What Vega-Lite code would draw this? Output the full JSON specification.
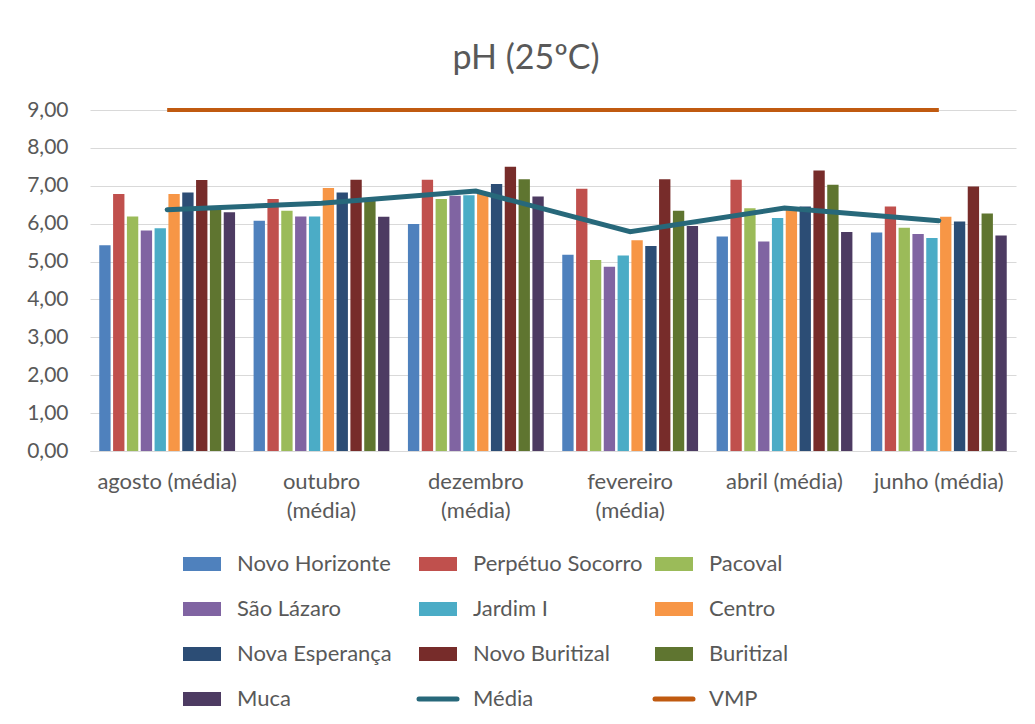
{
  "$schema": "https://vega.github.io/schema/vega-lite/v6.json",
  "autosize": {"type": "none"},
  "width": 926,
  "height": 341,
  "padding": {"left": 90, "top": 110, "right": 19, "bottom": 273},
  "background": "white",
  "title": {"text": "pH (25ºC)", "fontSize": 34, "font": "Lato", "fontWeight": "normal", "color": "#595959", "anchor": "middle", "offset": 23, "dx": -27},
  "config": {
    "font": "Lato",
    "view": {"stroke": null},
    "axis": {"labelFont": "Lato", "labelColor": "#595959", "labelFontSize": 22, "gridColor": "#D9D9D9", "domainColor": "#D9D9D9", "ticks": false, "title": null}
  },
  "data": {"values": [
    {"mes": "agosto (média)", "serie": "Novo Horizonte", "valor": 5.43},
    {"mes": "agosto (média)", "serie": "Perpétuo Socorro", "valor": 6.78},
    {"mes": "agosto (média)", "serie": "Pacoval", "valor": 6.19},
    {"mes": "agosto (média)", "serie": "São Lázaro", "valor": 5.82},
    {"mes": "agosto (média)", "serie": "Jardim I", "valor": 5.88},
    {"mes": "agosto (média)", "serie": "Centro", "valor": 6.78},
    {"mes": "agosto (média)", "serie": "Nova Esperança", "valor": 6.82},
    {"mes": "agosto (média)", "serie": "Novo Buritizal", "valor": 7.15},
    {"mes": "agosto (média)", "serie": "Buritizal", "valor": 6.38},
    {"mes": "agosto (média)", "serie": "Muca", "valor": 6.30},
    {"mes": "outubro (média)", "serie": "Novo Horizonte", "valor": 6.08},
    {"mes": "outubro (média)", "serie": "Perpétuo Socorro", "valor": 6.65},
    {"mes": "outubro (média)", "serie": "Pacoval", "valor": 6.34},
    {"mes": "outubro (média)", "serie": "São Lázaro", "valor": 6.19},
    {"mes": "outubro (média)", "serie": "Jardim I", "valor": 6.19},
    {"mes": "outubro (média)", "serie": "Centro", "valor": 6.94},
    {"mes": "outubro (média)", "serie": "Nova Esperança", "valor": 6.82},
    {"mes": "outubro (média)", "serie": "Novo Buritizal", "valor": 7.16},
    {"mes": "outubro (média)", "serie": "Buritizal", "valor": 6.65},
    {"mes": "outubro (média)", "serie": "Muca", "valor": 6.18},
    {"mes": "dezembro (média)", "serie": "Novo Horizonte", "valor": 5.99},
    {"mes": "dezembro (média)", "serie": "Perpétuo Socorro", "valor": 7.16},
    {"mes": "dezembro (média)", "serie": "Pacoval", "valor": 6.65},
    {"mes": "dezembro (média)", "serie": "São Lázaro", "valor": 6.74},
    {"mes": "dezembro (média)", "serie": "Jardim I", "valor": 6.75},
    {"mes": "dezembro (média)", "serie": "Centro", "valor": 6.78},
    {"mes": "dezembro (média)", "serie": "Nova Esperança", "valor": 7.05},
    {"mes": "dezembro (média)", "serie": "Novo Buritizal", "valor": 7.50},
    {"mes": "dezembro (média)", "serie": "Buritizal", "valor": 7.17},
    {"mes": "dezembro (média)", "serie": "Muca", "valor": 6.72},
    {"mes": "fevereiro (média)", "serie": "Novo Horizonte", "valor": 5.18},
    {"mes": "fevereiro (média)", "serie": "Perpétuo Socorro", "valor": 6.92},
    {"mes": "fevereiro (média)", "serie": "Pacoval", "valor": 5.04},
    {"mes": "fevereiro (média)", "serie": "São Lázaro", "valor": 4.86},
    {"mes": "fevereiro (média)", "serie": "Jardim I", "valor": 5.16},
    {"mes": "fevereiro (média)", "serie": "Centro", "valor": 5.56},
    {"mes": "fevereiro (média)", "serie": "Nova Esperança", "valor": 5.41},
    {"mes": "fevereiro (média)", "serie": "Novo Buritizal", "valor": 7.17},
    {"mes": "fevereiro (média)", "serie": "Buritizal", "valor": 6.34},
    {"mes": "fevereiro (média)", "serie": "Muca", "valor": 5.94},
    {"mes": "abril (média)", "serie": "Novo Horizonte", "valor": 5.66},
    {"mes": "abril (média)", "serie": "Perpétuo Socorro", "valor": 7.16},
    {"mes": "abril (média)", "serie": "Pacoval", "valor": 6.41},
    {"mes": "abril (média)", "serie": "São Lázaro", "valor": 5.53},
    {"mes": "abril (média)", "serie": "Jardim I", "valor": 6.15},
    {"mes": "abril (média)", "serie": "Centro", "valor": 6.42},
    {"mes": "abril (média)", "serie": "Nova Esperança", "valor": 6.45},
    {"mes": "abril (média)", "serie": "Novo Buritizal", "valor": 7.40},
    {"mes": "abril (média)", "serie": "Buritizal", "valor": 7.03},
    {"mes": "abril (média)", "serie": "Muca", "valor": 5.78},
    {"mes": "junho (média)", "serie": "Novo Horizonte", "valor": 5.77},
    {"mes": "junho (média)", "serie": "Perpétuo Socorro", "valor": 6.45},
    {"mes": "junho (média)", "serie": "Pacoval", "valor": 5.89},
    {"mes": "junho (média)", "serie": "São Lázaro", "valor": 5.73},
    {"mes": "junho (média)", "serie": "Jardim I", "valor": 5.62},
    {"mes": "junho (média)", "serie": "Centro", "valor": 6.18},
    {"mes": "junho (média)", "serie": "Nova Esperança", "valor": 6.06},
    {"mes": "junho (média)", "serie": "Novo Buritizal", "valor": 6.98},
    {"mes": "junho (média)", "serie": "Buritizal", "valor": 6.27},
    {"mes": "junho (média)", "serie": "Muca", "valor": 5.69},
    {"mes": "agosto (média)", "serie": "Média", "valor": 6.37},
    {"mes": "outubro (média)", "serie": "Média", "valor": 6.54},
    {"mes": "dezembro (média)", "serie": "Média", "valor": 6.86},
    {"mes": "fevereiro (média)", "serie": "Média", "valor": 5.79},
    {"mes": "abril (média)", "serie": "Média", "valor": 6.41},
    {"mes": "junho (média)", "serie": "Média", "valor": 6.08},
    {"mes": "agosto (média)", "serie": "VMP", "valor": 9},
    {"mes": "outubro (média)", "serie": "VMP", "valor": 9},
    {"mes": "dezembro (média)", "serie": "VMP", "valor": 9},
    {"mes": "fevereiro (média)", "serie": "VMP", "valor": 9},
    {"mes": "abril (média)", "serie": "VMP", "valor": 9},
    {"mes": "junho (média)", "serie": "VMP", "valor": 9}
  ]},
  "encoding": {
    "x": {"field": "mes", "type": "nominal", "sort": null,
      "scale": {"paddingInner": 0.12, "paddingOuter": 0.06},
      "axis": {"labelAngle": 0, "labelPadding": 20, "labelLineHeight": 29, "labelExpr": "length(datum.label) > 14 ? split(datum.label, ' ') : datum.label", "labelBaseline": "top"}},
    "y": {"field": "valor", "type": "quantitative",
      "scale": {"domain": [0, 9], "nice": false},
      "axis": {"values": [0,1,2,3,4,5,6,7,8,9], "labelOverlap": false, "domain": false, "labelPadding": 22, "labelFontSize": 21, "labelExpr": "replace(format(datum.value, '.2f'), '.', ',')"}},
    "color": {"field": "serie", "type": "nominal",
      "scale": {
        "domain": ["Novo Horizonte", "Perpétuo Socorro", "Pacoval", "São Lázaro", "Jardim I", "Centro", "Nova Esperança", "Novo Buritizal", "Buritizal", "Muca", "Média", "VMP"],
        "range": ["#4F81BD", "#C0504D", "#9BBB59", "#8064A2", "#4BACC6", "#F79646", "#2C4D75", "#772C2A", "#5F7530", "#4D3B62", "#27687A", "#C05A10"]},
      "legend": {
        "orient": "none", "legendX": 101, "legendY": 443, "direction": "horizontal", "columns": 3,
        "gridAlign": "all", "columnPadding": 2, "rowPadding": 23, "title": null,
        "symbolSize": 1444, "labelFontSize": 22, "labelColor": "#595959", "labelFont": "Lato", "labelOffset": 24, "labelLimit": 300,
        "encode": {"symbols": {"update": {
          "shape": {"signal": "indexof(['Média','VMP'], datum.value) >= 0 ? 'stroke' : 'M-1,-0.37H1V0.37H-1Z'"},
          "size": {"value": 1444},
          "fill": {"signal": "indexof(['Média','VMP'], datum.value) >= 0 ? 'transparent' : scale('color', datum.value)"},
          "stroke": {"signal": "scale('color', datum.value)"},
          "strokeWidth": {"signal": "indexof(['Média','VMP'], datum.value) >= 0 ? 5 : 0"},
          "strokeCap": {"value": "round"},
          "opacity": {"value": 1}
        }}}
      }}
  },
  "layer": [
    {"transform": [{"filter": "datum.serie != 'Média' && datum.serie != 'VMP'"}],
     "mark": {"type": "bar"},
     "encoding": {"xOffset": {"field": "serie", "type": "nominal",
       "scale": {"domain": ["Novo Horizonte", "Perpétuo Socorro", "Pacoval", "São Lázaro", "Jardim I", "Centro", "Nova Esperança", "Novo Buritizal", "Buritizal", "Muca"], "paddingInner": 0.18}}}},
    {"transform": [{"filter": "datum.serie == 'VMP'"}],
     "mark": {"type": "line", "strokeWidth": 4},
     "encoding": {}},
    {"transform": [{"filter": "datum.serie == 'Média'"}],
     "mark": {"type": "line", "strokeWidth": 5, "strokeCap": "round"},
     "encoding": {}}
  ]
}
